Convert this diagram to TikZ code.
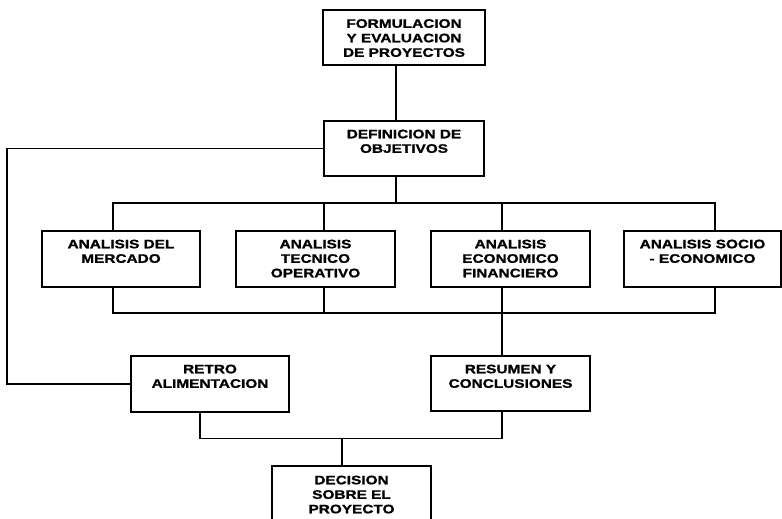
\documentclass[tikz,border=0pt]{standalone}
\usepackage{fontspec}
\setmainfont{Liberation Sans}[FakeStretch=1.25,FakeBold=1.2]
\begin{document}
\begin{tikzpicture}[x=1pt,y=-1pt,
  box/.style={draw, line width=1.9pt, inner sep=0pt},
  txt/.style={font=\bfseries\fontsize{12.3}{14.5}\selectfont, align=center, inner sep=0pt, anchor=north},
  wire/.style={line width=1.9pt}]
\useasboundingbox (0,0) rectangle (782,519);
% boxes
\node[box, minimum width=162pt, minimum height=55pt] (form) at (404,37.5) {};
\node[box, minimum width=160pt, minimum height=55pt] (def) at (404,148.5) {};
\node[box, minimum width=158pt, minimum height=56pt] (m1) at (121,259) {};
\node[box, minimum width=159pt, minimum height=56pt] (m2) at (315.5,259) {};
\node[box, minimum width=159pt, minimum height=56pt] (m3) at (510.5,259) {};
\node[box, minimum width=157pt, minimum height=56pt] (m4) at (702.5,259) {};
\node[box, minimum width=158pt, minimum height=56pt] (retro) at (210,384) {};
\node[box, minimum width=159pt, minimum height=55pt] (res) at (510.5,383.5) {};
\node[box, minimum width=159pt, minimum height=76pt] (dec) at (351.5,504) {};
% texts
\node[txt] (tform) at (404,19) {FORMULACION\\Y EVALUACION\\DE PROYECTOS};
\node[txt] (tdef) at (404,129.5) {DEFINICION DE\\OBJETIVOS};
\node[txt] (tm1) at (121,239.5) {ANALISIS DEL\\MERCADO};
\node[txt] (tm2) at (315.5,239.5) {ANALISIS\\TECNICO\\OPERATIVO};
\node[txt] (tm3) at (510.5,239.5) {ANALISIS\\ECONOMICO\\FINANCIERO};
\node[txt] (tm4) at (702.5,239.5) {ANALISIS SOCIO\\- ECONOMICO};
\node[txt] (tretro) at (210,364.5) {RETRO\\ALIMENTACION};
\node[txt] (tres) at (510.5,364.5) {RESUMEN Y\\CONCLUSIONES};
\node[txt] (tdec) at (351.5,475.5) {DECISION\\SOBRE EL\\PROYECTO};
% reference coordinates
\coordinate (c1) at (396,0);
\coordinate (xa) at (113,0);
\coordinate (xb) at (324,0);
\coordinate (xc) at (502,0);
\coordinate (xd) at (715,0);
\coordinate (xl) at (7,0);
\coordinate (xr) at (200,0);
\coordinate (xdec) at (342,0);
\coordinate (bt) at (0,203);
\coordinate (bb) at (0,313);
\coordinate (bd) at (0,438.5);
% connectors
\draw[wire] (form.south -| c1) -- (def.north -| c1);
\draw[wire] (def.south -| c1) -- (c1 |- bt);
\draw[wire] (m1.north -| xa) -- (xa |- bt) -- (xd |- bt) -- (m4.north -| xd);
\draw[wire] (m2.north -| xb) -- (xb |- bt);
\draw[wire] (m3.north -| xc) -- (xc |- bt);
\draw[wire] (m1.south -| xa) -- (xa |- bb) -- (xd |- bb) -- (m4.south -| xd);
\draw[wire] (m2.south -| xb) -- (xb |- bb);
\draw[wire] (m3.south -| xc) -- (xc |- bb);
\draw[wire] (xc |- bb) -- (res.north -| xc);
\draw[wire] (def.west) -- (def.west -| xl) -- (xl |- retro.west) -- (retro.west);
\draw[wire] (retro.south -| xr) -- (xr |- bd) -- (xc |- bd) -- (res.south -| xc);
\draw[wire] (xdec |- bd) -- (dec.north -| xdec);
\end{tikzpicture}
\end{document}
